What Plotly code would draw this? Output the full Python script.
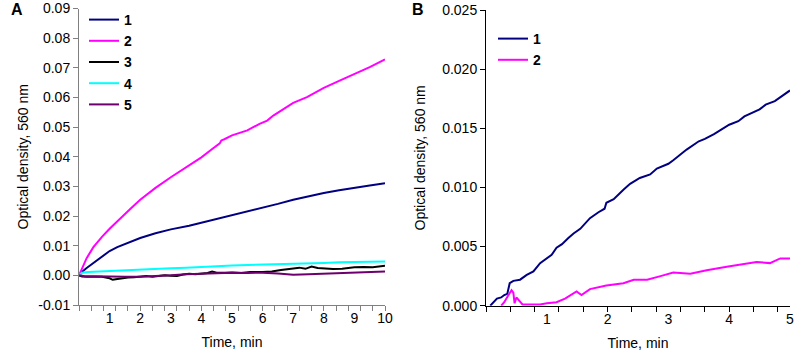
import plotly.graph_objects as go

W, H = 800, 357

# ---------- Panel A data ----------
time_a1 = [0, 0.1, 0.25, 0.5, 0.75, 1.0, 1.25, 1.5, 2.0, 2.5, 3.0, 3.6, 4.0, 4.5, 5.0, 5.5, 6.0, 6.5, 7.0, 7.5, 8.0, 8.5, 9.0, 9.5, 10.0]
od_a1 = [0, 0.0012, 0.0025, 0.0045, 0.0064, 0.0082, 0.0095, 0.0106, 0.0126, 0.0142, 0.0155, 0.0167, 0.0177, 0.0189, 0.0202, 0.0215, 0.0227, 0.0241, 0.0255, 0.0267, 0.0278, 0.0287, 0.0294, 0.0303, 0.0311]

time_a2 = [0, 0.1, 0.25, 0.47, 0.75, 1.0, 1.34, 1.7, 2.0, 2.5, 3.0, 3.5, 4.0, 4.3, 4.6, 4.65, 4.75, 5.0, 5.5, 5.9, 6.15, 6.35, 6.7, 7.0, 7.45, 8.0, 8.5, 9.0, 9.5, 10.0]
od_a2 = [0, 0.0025, 0.0058, 0.0095, 0.0130, 0.0157, 0.0192, 0.0226, 0.0255, 0.0295, 0.0331, 0.0364, 0.0398, 0.0422, 0.0445, 0.0455, 0.0459, 0.0472, 0.0489, 0.0511, 0.0522, 0.0539, 0.0562, 0.0582, 0.0601, 0.0632, 0.0656, 0.0678, 0.0702, 0.0728]

time_a3 = [0, 0.1, 0.25, 0.5, 0.75, 1.0, 1.1, 1.2, 1.4, 1.6, 1.8, 2.0, 2.2, 2.4, 2.6, 2.8, 3.0, 3.2, 3.4, 3.6, 3.8, 4.0, 4.2, 4.35, 4.5, 4.8, 5.0, 5.3, 5.6, 6.0, 6.3, 6.6, 7.0, 7.2, 7.4, 7.6, 7.8, 8.0, 8.3, 8.6, 9.0, 9.3, 9.6, 10.0]
od_a3 = [0, -0.0004, -0.0005, -0.0006, -0.0005, -0.0010, -0.0015, -0.0013, -0.0009, -0.0007, -0.0006, -0.0003, -0.0002, -0.0005, -0.0003, 0.0, -0.0001, -0.0002, 0.0003, 0.0005, 0.0004, 0.0006, 0.0008, 0.0013, 0.0009, 0.0009, 0.0010, 0.0008, 0.0011, 0.0011, 0.0013, 0.0018, 0.0024, 0.0026, 0.0022, 0.0030, 0.0025, 0.0023, 0.0021, 0.0022, 0.0027, 0.0028, 0.0027, 0.0032]

time_a4 = [0, 0.1, 0.3, 1.0, 1.5, 2.0, 2.5, 3.0, 3.5, 4.0, 4.5, 5.0, 5.5, 6.0, 6.5, 7.0, 7.5, 8.0, 8.5, 9.0, 9.5, 10.0]
od_a4 = [0, 0.0009, 0.0011, 0.0015, 0.0017, 0.0019, 0.0022, 0.0024, 0.0026, 0.0029, 0.0031, 0.0033, 0.0035, 0.0036, 0.0038, 0.0039, 0.0041, 0.0042, 0.0044, 0.0045, 0.0046, 0.0047]

time_a5 = [0, 0.2, 0.5, 1.0, 1.5, 2.0, 2.5, 3.0, 3.5, 4.0, 4.5, 5.0, 5.5, 6.0, 6.5, 7.0, 7.5, 8.0, 8.5, 9.0, 9.5, 10.0]
od_a5 = [0, -0.0003, -0.0003, -0.0005, -0.0005, -0.0005, -0.0003, 0.0, 0.0004, 0.0006, 0.0008, 0.0009, 0.0008, 0.0009, 0.0006, 0.0002, 0.0004, 0.0006, 0.0008, 0.0011, 0.0012, 0.0013]

# ---------- Panel B data ----------
time_b1 = [0.07, 0.18, 0.25, 0.3, 0.35, 0.37, 0.39, 0.45, 0.56, 0.67, 0.78, 0.89, 1.0, 1.08, 1.16, 1.25, 1.35, 1.44, 1.55, 1.71, 1.85, 1.95, 1.98, 2.1, 2.26, 2.37, 2.53, 2.7, 2.81, 3.0, 3.08, 3.3, 3.5, 3.6, 3.75, 4.0, 4.15, 4.25, 4.5, 4.6, 4.75, 4.9, 5.0]
od_b1 = [0, 0.0006, 0.0007, 0.0009, 0.0010, 0.0014, 0.0019, 0.0021, 0.0022, 0.0026, 0.0029, 0.0036, 0.0040, 0.0043, 0.0049, 0.0052, 0.0057, 0.0061, 0.0065, 0.0074, 0.0079, 0.0082, 0.0087, 0.0090, 0.0098, 0.0103, 0.0108, 0.0111, 0.0116, 0.0120, 0.0123, 0.0132, 0.0139, 0.0141, 0.0145, 0.0153, 0.0156, 0.0160, 0.0166, 0.0170, 0.0173, 0.0178, 0.0182]

time_b2 = [0.25, 0.3, 0.37, 0.42, 0.45, 0.47, 0.5, 0.53, 0.6, 0.7, 0.89, 1.0, 1.16, 1.3, 1.44, 1.49, 1.57, 1.71, 1.98, 2.26, 2.43, 2.65, 2.87, 3.08, 3.36, 3.63, 3.96, 4.18, 4.45, 4.67, 4.84, 5.0]
od_b2 = [0, 0.0003, 0.0009, 0.0013, 0.0011, 0.0002, 0.0007, 0.0005, 0.0001, 0.0001, 0.0001, 0.0002, 0.0003, 0.0006, 0.0010, 0.0012, 0.0009, 0.0014, 0.0017, 0.0019, 0.0022, 0.0022, 0.0025, 0.0028, 0.0027, 0.0030, 0.0033, 0.0035, 0.0037, 0.0036, 0.0040, 0.0040]

# ---------- Tick labels ----------
a_xtick_vals = [1, 2, 3, 4, 5, 6, 7, 8, 9, 10]
a_xtick_text = ["1", "2", "3", "4", "5", "6", "7", "8", "9", "10"]
a_ytick_vals = [-0.01, 0.0, 0.01, 0.02, 0.03, 0.04, 0.05, 0.06, 0.07, 0.08, 0.09]
a_ytick_text = ["-0.01", "0.00", "0.01", "0.02", "0.03", "0.04", "0.05", "0.06", "0.07", "0.08", "0.09"]
a_minor_ticks = [round(0.4 * i, 2) for i in range(26)]

b_xtick_vals = [1, 2, 3, 4, 5]
b_xtick_text = ["1", "2", "3", "4", "5"]
b_ytick_vals = [0.0, 0.005, 0.010, 0.015, 0.020, 0.025]
b_ytick_text = ["0.000", "0.005", "0.010", "0.015", "0.020", "0.025"]
b_minor_ticks = [round(0.4 * i, 2) for i in range(13)]

series_a = [
    ("1", time_a1, od_a1, "#000080"),
    ("2", time_a2, od_a2, "#FF00FF"),
    ("3", time_a3, od_a3, "#000000"),
    ("4", time_a4, od_a4, "#00FFFF"),
    ("5", time_a5, od_a5, "#6E006E"),
]
series_b = [
    ("1", time_b1, od_b1, "#000080"),
    ("2", time_b2, od_b2, "#FF00FF"),
]

FONT = "Liberation Sans, Arial, sans-serif"

fig = go.Figure()
for name, t, v, c in series_a:
    fig.add_trace(go.Scatter(x=t, y=v, mode="lines", name=name, line=dict(color=c, width=2),
                             xaxis="x", yaxis="y", legend="legend", legendgroup="a" + name))
for name, t, v, c in series_b:
    fig.add_trace(go.Scatter(x=t, y=v, mode="lines", name=name, line=dict(color=c, width=2),
                             xaxis="x2", yaxis="y2", legend="legend2", legendgroup="b" + name))
# empty traces so the tick-mark overlay axes are drawn
fig.add_trace(go.Scatter(x=[], y=[], xaxis="x3", yaxis="y", showlegend=False))
fig.add_trace(go.Scatter(x=[], y=[], xaxis="x4", yaxis="y2", showlegend=False))


def px_x(p):
    return p / W


def px_y(p):
    return 1 - p / H


ax_a_dom = [px_x(79), px_x(385)]
ay_a_dom = [px_y(305), px_y(8.5)]
bx_dom = [px_x(486), px_x(790)]
by_dom = [px_y(305.7), px_y(10)]

tickfont = dict(family=FONT, size=14, color="#000000")
titlefont = dict(family=FONT, size=14, color="#000000")
legfont = dict(family=FONT, size=14, weight="bold", color="#000000")

fig.update_layout(
    template="none",
    width=W, height=H, autosize=False,
    margin=dict(l=0, r=0, t=0, b=0, pad=0),
    paper_bgcolor="white", plot_bgcolor="white",
    font=dict(family=FONT, size=14, color="#000000"),
    xaxis=dict(domain=ax_a_dom, range=[0, 10], anchor="y", tickvals=a_xtick_vals, ticktext=a_xtick_text,
               ticks="", showline=True, linecolor="#808080", linewidth=1, showgrid=False, zeroline=False,
               automargin=False, tickfont=tickfont, title=dict(text="Time, min", font=titlefont, standoff=12)),
    xaxis3=dict(overlaying="x", range=[0, 10], anchor="y", tickvals=a_minor_ticks, showticklabels=False,
                ticks="outside", ticklen=5, tickcolor="#808080", tickwidth=1, showline=False,
                showgrid=False, zeroline=False, side="bottom", automargin=False),
    yaxis=dict(domain=ay_a_dom, range=[-0.01, 0.09], anchor="x", tickvals=a_ytick_vals, ticktext=a_ytick_text,
               ticks="outside", ticklen=5, tickcolor="#808080", showline=True, linecolor="#808080", linewidth=1,
               showgrid=False, zeroline=False, automargin=False, tickfont=tickfont,
               title=dict(text="Optical density, 560 nm", font=titlefont, standoff=6)),
    xaxis2=dict(domain=bx_dom, range=[0, 5], anchor="y2", tickvals=b_xtick_vals, ticktext=b_xtick_text,
                ticks="", showline=True, linecolor="#000000", linewidth=1, showgrid=False, zeroline=False,
                automargin=False, tickfont=tickfont, title=dict(text="Time, min", font=titlefont, standoff=12)),
    xaxis4=dict(overlaying="x2", range=[0, 5], anchor="y2", tickvals=b_minor_ticks, showticklabels=False,
                ticks="outside", ticklen=5, tickcolor="#000000", tickwidth=1, showline=False,
                showgrid=False, zeroline=False, side="bottom", automargin=False),
    yaxis2=dict(domain=by_dom, range=[0, 0.025], anchor="x2", tickvals=b_ytick_vals, ticktext=b_ytick_text,
                ticks="outside", ticklen=5, tickcolor="#000000", showline=True, linecolor="#000000", linewidth=1,
                showgrid=False, zeroline=False, automargin=False, tickfont=tickfont,
                title=dict(text="Optical density, 560 nm", font=titlefont, standoff=13)),
    legend=dict(x=px_x(84), y=px_y(4), xanchor="left", yanchor="top", bgcolor="rgba(0,0,0,0)",
                font=legfont, tracegroupgap=0, itemwidth=30),
    legend2=dict(x=px_x(493), y=px_y(23), xanchor="left", yanchor="top", bgcolor="rgba(0,0,0,0)",
                 font=legfont, tracegroupgap=0, itemwidth=30),
    annotations=[
        dict(text="A", x=px_x(9), y=px_y(9), xref="paper", yref="paper", xanchor="left", yanchor="middle",
             showarrow=False, font=dict(family=FONT, size=16, weight="bold", color="#000000")),
        dict(text="B", x=px_x(410), y=px_y(9), xref="paper", yref="paper", xanchor="left", yanchor="middle",
             showarrow=False, font=dict(family=FONT, size=16, weight="bold", color="#000000")),
    ],
)

fig.write_html("out.html", config={"displayModeBar": False},
               post_script="document.body.style.margin='0';document.body.style.overflow='hidden';")
